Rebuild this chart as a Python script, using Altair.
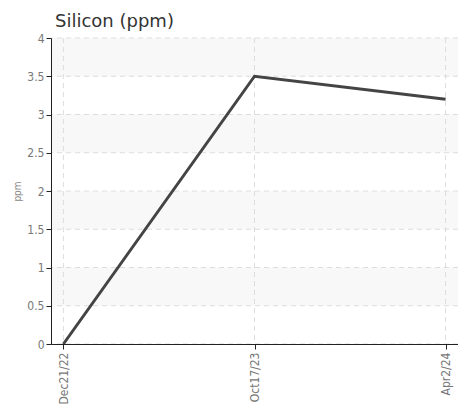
import altair as alt
import pandas as pd

dates = ["Dec21/22", "Oct17/23", "Apr2/24"]
values = [0.0, 3.5, 3.2]
y_ticks = [0, 0.5, 1, 1.5, 2, 2.5, 3, 3.5, 4]
band_starts = [0.5, 1.5, 2.5, 3.5]
band_width = 0.5

df = pd.DataFrame({"date": dates, "ppm": values})
bands = pd.DataFrame({"y": band_starts, "y2": [b + band_width for b in band_starts]})
ygrid = pd.DataFrame({"y": y_ticks})
xgrid = pd.DataFrame({"date": dates})

label_font = "DejaVu Sans Condensed"
grid_color = "#dddddd"
grid_dash = [5, 4]

x_scale = alt.Scale(type="point", padding=0.065, domain=dates)
x_axis = alt.Axis(
    title=None, labelAngle=-90, labelFont=label_font, labelFontSize=12,
    labelColor="#777777", domainColor="#222222", tickColor="#222222",
    tickSize=5, grid=False, labelPadding=3, zindex=1,
)
y_scale = alt.Scale(domain=[0, 4], nice=False)
y_axis = alt.Axis(
    title="ppm", titleFont=label_font, titleFontSize=10, titleFontWeight="normal",
    titleColor="#888888", titlePadding=4,
    values=y_ticks, format="~g", labelOverlap=False,
    labelFont=label_font, labelFontSize=12, labelColor="#777777",
    domainColor="#222222", tickColor="#222222", tickSize=5,
    grid=False, labelPadding=2, zindex=1,
)

band_layer = alt.Chart(bands).mark_rect(color="#f8f8f8").encode(
    x=alt.value(0), x2=alt.value(407),
    y=alt.Y("y:Q", scale=y_scale, axis=y_axis), y2="y2:Q",
)

hgrid = alt.Chart(ygrid).mark_rule(color=grid_color, strokeDash=grid_dash, strokeWidth=1).encode(
    y=alt.Y("y:Q", scale=y_scale, axis=y_axis),
)

vgrid = alt.Chart(xgrid).mark_rule(color=grid_color, strokeDash=grid_dash, strokeWidth=1).encode(
    x=alt.X("date:N", scale=x_scale, axis=x_axis, sort=dates),
)

line = alt.Chart(df).mark_line(color="#444444", strokeWidth=3).encode(
    x=alt.X("date:N", scale=x_scale, axis=x_axis, sort=dates),
    y=alt.Y("ppm:Q", scale=y_scale, axis=y_axis),
)

chart = alt.layer(band_layer, hgrid, vgrid, line).properties(
    width=407, height=306,
    autosize=alt.AutoSizeParams(type="none"),
    padding={"left": 43, "top": 30, "right": 0, "bottom": 60},
    title=alt.TitleParams(
        "Silicon (ppm)", anchor="start", frame="group", font="DejaVu Sans", fontSize=18,
        fontWeight="normal", color="#333333", dx=4, offset=1,
    ),
).configure_view(stroke=None)

chart.save("out.html", embed_options={"renderer": "svg", "actions": False})
